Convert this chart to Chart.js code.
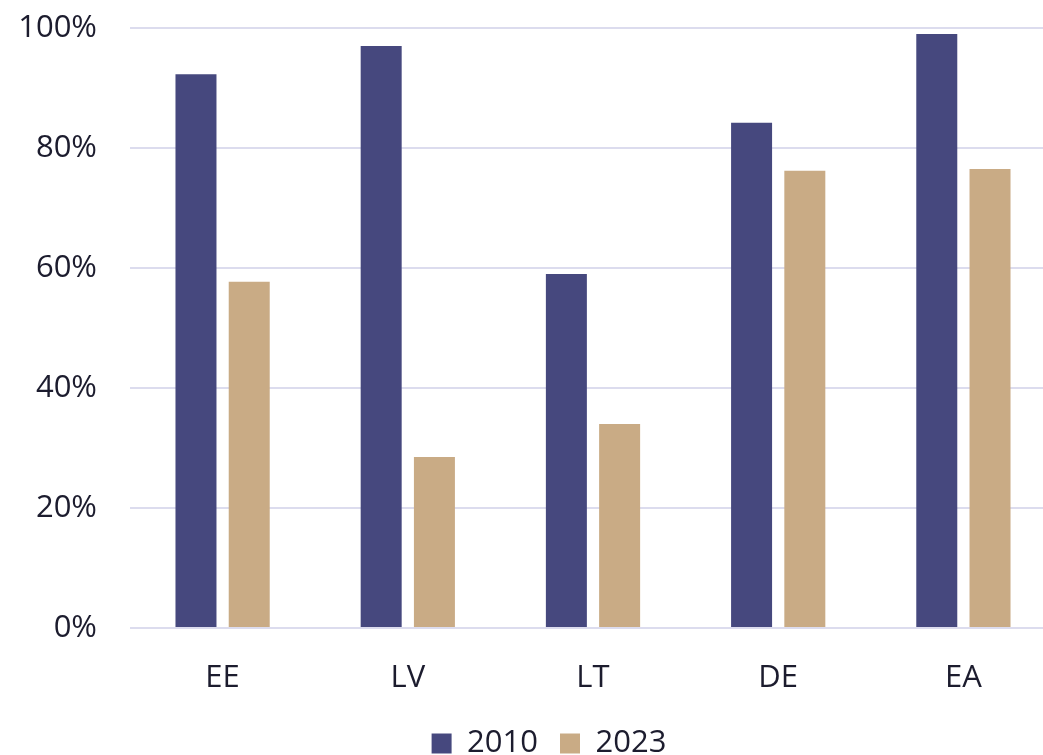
<!DOCTYPE html>
<html>
<head>
<meta charset="utf-8">
<script src="https://cdn.jsdelivr.net/npm/chart.js@4/dist/chart.umd.min.js"></script>
<style>
    html, body { margin: 0; padding: 0; background: #ffffff; overflow: hidden; }
    #wrap { width: 1056px; height: 755px; }
</style>
</head>
<body>
<div id="wrap"><canvas id="barChart"></canvas></div>
<script>
// Chart data
const categories = ['EE', 'LV', 'LT', 'DE', 'EA'];
const values2010 = [92.3, 97.0, 59.0, 84.2, 99.0];
const values2023 = [57.7, 28.5, 34.0, 76.2, 76.5];
const yTicks = [0, 20, 40, 60, 80, 100];

const textColor = '#1c1c2e';
const gridColor = '#dcdcee';

Chart.defaults.font.family = '"Open Sans", "Noto Sans", sans-serif';
Chart.defaults.font.size = 31;
Chart.defaults.color = textColor;

// Fix legend height and nudge it right, like the original
const legendPlace = {
    id: 'legendPlace',
    beforeInit(chart) {
        const origFit = chart.legend.fit;
        chart.legend.fit = function() {
            origFit.bind(chart.legend)();
            this.height = 49;
        };
    },
    afterLayout(chart) {
        chart.legend.left += 42;
    }
};

const ctx = document.getElementById('barChart');

new Chart(ctx, {
    type: 'bar',
    data: {
        labels: categories,
        datasets: [{
            label: '2010',
            data: values2010,
            backgroundColor: '#46487e',
            categoryPercentage: 0.575,
            barPercentage: 0.77
        }, {
            label: '2023',
            data: values2023,
            backgroundColor: '#c9ab85',
            categoryPercentage: 0.575,
            barPercentage: 0.77
        }]
    },
    options: {
        responsive: true,
        maintainAspectRatio: false,
        animation: false,
        layout: {
            padding: { top: 28, left: 0, right: 0, bottom: 0 }
        },
        plugins: {
            legend: {
                position: 'bottom',
                labels: {
                    boxWidth: 20,
                    boxHeight: 20,
                    padding: 22,
                    color: textColor
                }
            },
            tooltip: { enabled: false }
        },
        scales: {
            x: {
                grid: { display: false },
                border: { display: false },
                ticks: { padding: 24 },
                afterFit: function(axis) {
                    axis.height = 78;
                }
            },
            y: {
                min: 0,
                max: 100,
                afterBuildTicks: function(axis) {
                    axis.ticks = yTicks.map(v => ({ value: v }));
                },
                afterFit: function(axis) {
                    axis.width = 130;
                    axis.paddingTop = 0;
                    axis.paddingBottom = 0;
                },
                grid: {
                    color: gridColor,
                    lineWidth: 2,
                    drawTicks: false
                },
                border: { display: false },
                ticks: {
                    padding: 33,
                    callback: function(value) {
                        return value + '%';
                    }
                }
            }
        }
    },
    plugins: [legendPlace]
});
</script>
</body>
</html>
